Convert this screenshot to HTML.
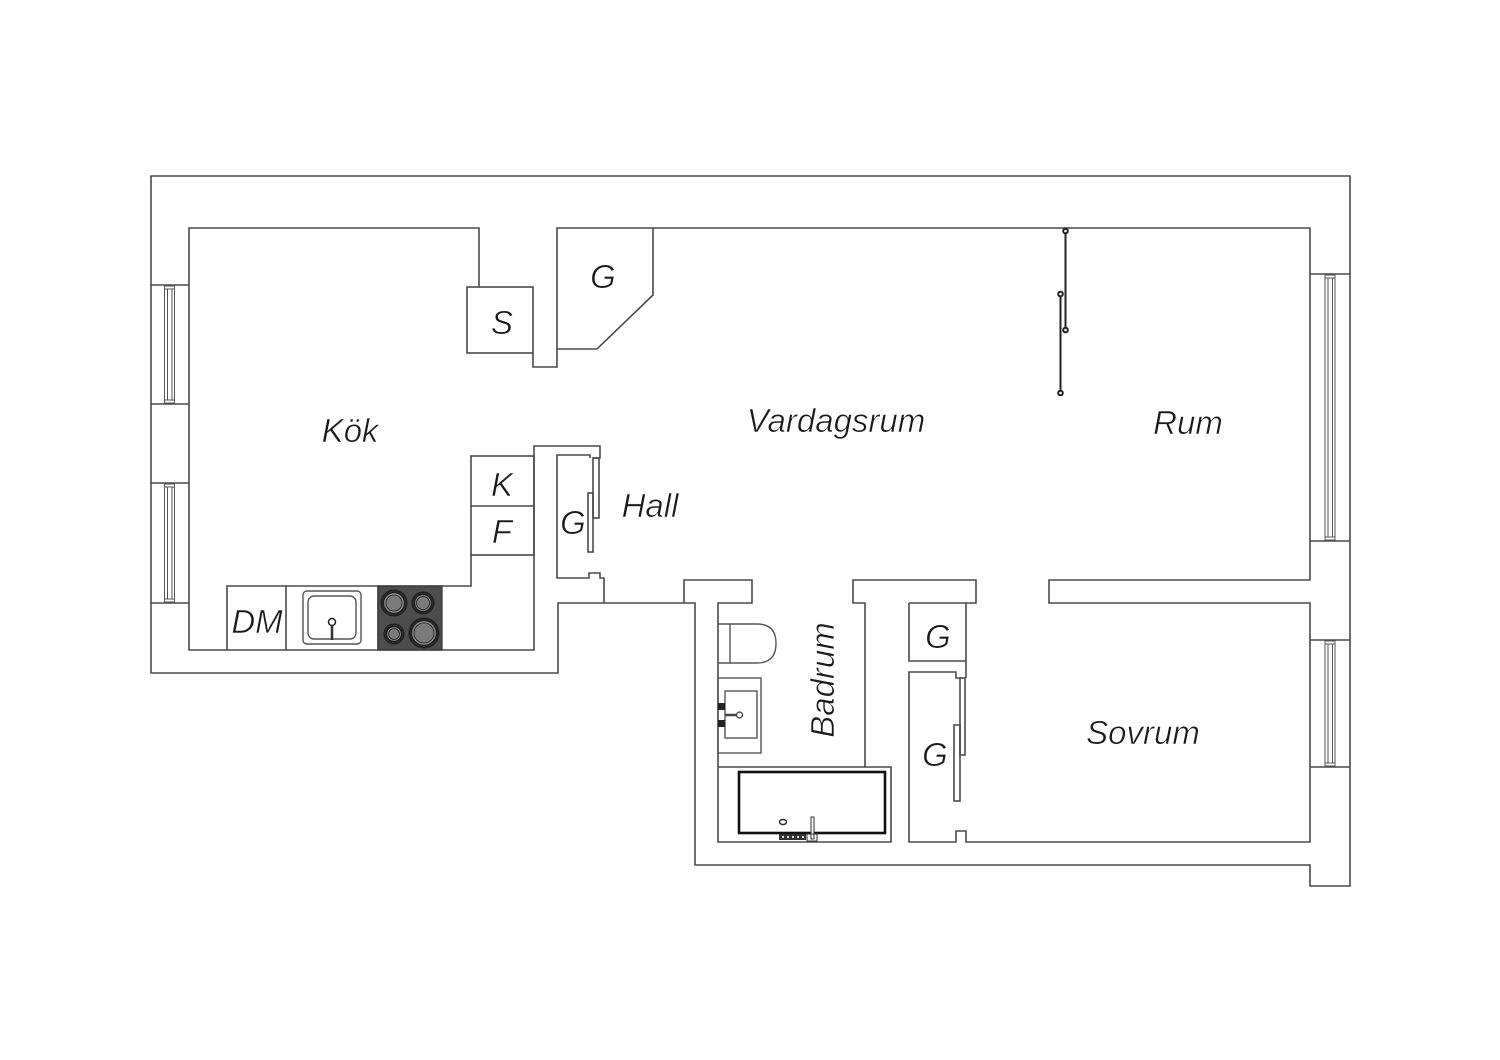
<!DOCTYPE html>
<html><head><meta charset="utf-8"><style>
html,body{margin:0;padding:0;background:#fff;}
svg{display:block;}
text{font-family:"Liberation Sans",sans-serif;font-style:italic;font-size:33px;fill:#1a1a1a;stroke:#fff;stroke-width:0.6;paint-order:normal;}
</style></head><body>
<svg width="1500" height="1060" viewBox="0 0 1500 1060" xmlns="http://www.w3.org/2000/svg">
<rect width="1500" height="1060" fill="#fff"/>
<g fill="none" stroke="#4a4a4a" stroke-width="1.6">
<path d="M151,176 H1350 V886 H1310 V865 H695 V603 H558 V673 H151 Z"/>
<path d="M479,287 V228 H189 V650 H534 V446 H600 V458 H593"/>
<rect x="467" y="287" width="66" height="66"/>
<path d="M533,353 V367 H557 V228 H1310 V580 H1049 V603 H1310 V842 H966 V831 H956 V842 H909 V672 H956 V678 H961"/>
<path d="M557,349 H597 L653,295 V228"/>
<path d="M590,458 V455 H557 V578 H589 V573 H600 V578 H604 V603"/>
<rect x="593" y="458" width="6" height="60"/>
<rect x="588" y="493" width="5" height="59"/>
<rect x="471" y="456" width="63" height="99"/>
<line x1="471" y1="506" x2="534" y2="506"/>
<path d="M227,650 V586 H471 V555"/>
<line x1="286" y1="586" x2="286" y2="650"/>
<line x1="378" y1="586" x2="378" y2="650"/>
<line x1="151" y1="285" x2="189" y2="285"/>
<line x1="151" y1="404" x2="189" y2="404"/>
<line x1="151" y1="483" x2="189" y2="483"/>
<line x1="151" y1="603" x2="189" y2="603"/>
<line x1="1310" y1="274" x2="1350" y2="274"/>
<line x1="1310" y1="541" x2="1350" y2="541"/>
<line x1="1310" y1="640" x2="1350" y2="640"/>
<line x1="1310" y1="767" x2="1350" y2="767"/>
<path d="M684,603 V580 H752 V603 H718 V842 H891 V767 H718"/>
<path d="M865,767 V603 H853 V580 H976 V603 H966 V678"/>
<path d="M909,603 H966 M909,603 V661 H966"/>
<rect x="960" y="678" width="5" height="77"/>
<rect x="954" y="725" width="6" height="76"/>
</g>
<g fill="none" stroke="#555" stroke-width="1">
<rect x="164.5" y="286" width="10" height="117"/>
<rect x="167.5" y="289" width="4.5" height="111"/>
<line x1="164.5" y1="289" x2="174.5" y2="289"/><line x1="164.5" y1="400" x2="174.5" y2="400"/>
<rect x="164.5" y="484" width="10" height="118"/>
<rect x="167.5" y="487" width="4.5" height="112"/>
<line x1="164.5" y1="487" x2="174.5" y2="487"/><line x1="164.5" y1="599" x2="174.5" y2="599"/>
<rect x="1325" y="275" width="10" height="265"/>
<rect x="1328" y="278" width="4.5" height="259"/>
<line x1="1325" y1="278" x2="1335" y2="278"/><line x1="1325" y1="537" x2="1335" y2="537"/>
<rect x="1325" y="641" width="10" height="125"/>
<rect x="1328" y="644" width="4.5" height="119"/>
<line x1="1325" y1="644" x2="1335" y2="644"/><line x1="1325" y1="763" x2="1335" y2="763"/>
</g>
<g stroke="#222" stroke-width="2" fill="#fff">
<line x1="1065.5" y1="231" x2="1065.5" y2="330"/>
<line x1="1060.5" y1="294" x2="1060.5" y2="393"/>
<circle cx="1065.5" cy="231" r="2.3"/><circle cx="1065.5" cy="330" r="2.3"/>
<circle cx="1060.5" cy="294" r="2.3"/><circle cx="1060.5" cy="393" r="2.3"/>
</g>
<g fill="#fff" stroke="#555" stroke-width="1.4">
<rect x="303" y="591" width="58" height="53" rx="4"/>
<rect x="308" y="596" width="48" height="43" rx="6"/>
</g>
<line x1="332" y1="625" x2="332" y2="640" stroke="#333" stroke-width="2.5"/>
<circle cx="332" cy="622" r="3.5" fill="#fff" stroke="#222" stroke-width="1.5"/>
<rect x="378" y="586" width="64" height="64" fill="#4d4d4d" stroke="#333" stroke-width="1.2"/>
<g stroke="#1e1e1e">
<circle cx="394" cy="603" r="13" fill="#2a2a2a" stroke-width="1"/>
<circle cx="394" cy="603" r="10.5" fill="#8a8a8a" stroke-width="1.2"/>
<circle cx="394" cy="603" r="8" fill="#7a7a7a" stroke-width="0.8"/>
<circle cx="423" cy="603" r="11" fill="#2a2a2a" stroke-width="1"/>
<circle cx="423" cy="603" r="8.5" fill="#8a8a8a" stroke-width="1.2"/>
<circle cx="423" cy="603" r="6.5" fill="#7a7a7a" stroke-width="0.8"/>
<circle cx="394" cy="634" r="10" fill="#2a2a2a" stroke-width="1"/>
<circle cx="394" cy="634" r="7.5" fill="#8a8a8a" stroke-width="1.2"/>
<circle cx="394" cy="634" r="5.5" fill="#7a7a7a" stroke-width="0.8"/>
<circle cx="424" cy="633" r="15" fill="#2a2a2a" stroke-width="1"/>
<circle cx="424" cy="633" r="12.5" fill="#8a8a8a" stroke-width="1.2"/>
<circle cx="424" cy="633" r="10" fill="#7a7a7a" stroke-width="0.8"/>
</g>
<g fill="none" stroke="#555" stroke-width="1.4">
<path d="M718,624 H757 Q776,624 776,643.5 Q776,663 757,663 H718"/>
<line x1="730" y1="624" x2="730" y2="663"/>
<rect x="718" y="678" width="43" height="75"/>
<rect x="725" y="691" width="32" height="47"/>
</g>
<rect x="718" y="703" width="7" height="7" fill="#222"/>
<rect x="718" y="720" width="7" height="7" fill="#222"/>
<line x1="725" y1="715" x2="737" y2="715" stroke="#444" stroke-width="2.5"/>
<circle cx="739.5" cy="715" r="3" fill="#fff" stroke="#333" stroke-width="1.2"/>
<rect x="739" y="772" width="146" height="61" fill="none" stroke="#111" stroke-width="2.6"/>
<ellipse cx="783" cy="822" rx="3.5" ry="2.5" fill="none" stroke="#222" stroke-width="1.4"/>
<rect x="811" y="817" width="3" height="22" fill="#fff" stroke="#333" stroke-width="1"/>
<rect x="807" y="834" width="10" height="7" fill="none" stroke="#333" stroke-width="1"/>
<rect x="779" y="834" width="27" height="6" fill="#333"/>
<g fill="#ddd"><rect x="782" y="836" width="2" height="2"/><rect x="787" y="836" width="2" height="2"/><rect x="792" y="836" width="2" height="2"/><rect x="797" y="836" width="2" height="2"/><rect x="802" y="836" width="2" height="2"/></g>
<text x="350" y="442" text-anchor="middle">Kök</text>
<text x="502" y="334" text-anchor="middle">S</text>
<text x="603" y="288" text-anchor="middle">G</text>
<text x="502" y="496" text-anchor="middle">K</text>
<text x="502" y="543" text-anchor="middle">F</text>
<text x="573" y="534" text-anchor="middle">G</text>
<text x="650" y="517" text-anchor="middle">Hall</text>
<text x="257" y="633" text-anchor="middle">DM</text>
<text x="836" y="432" text-anchor="middle">Vardagsrum</text>
<text x="1188" y="434" text-anchor="middle">Rum</text>
<text x="1143" y="744" text-anchor="middle">Sovrum</text>
<text x="938" y="648" text-anchor="middle">G</text>
<text x="935" y="766" text-anchor="middle">G</text>
<text x="0" y="0" text-anchor="middle" transform="translate(834,680) rotate(-90)">Badrum</text>
</svg>
</body></html>
